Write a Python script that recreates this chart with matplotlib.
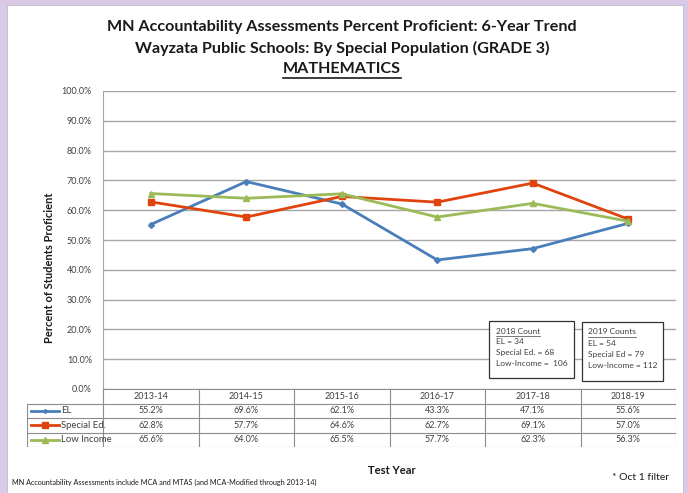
import matplotlib
matplotlib.use("Agg")
import matplotlib.pyplot as plt
from matplotlib.patches import Rectangle
from matplotlib.lines import Line2D

years = ["2013-14", "2014-15", "2015-16", "2016-17", "2017-18", "2018-19"]
el = [55.2, 69.6, 62.1, 43.3, 47.1, 55.6]
sped = [62.8, 57.7, 64.6, 62.7, 69.1, 57.0]
lowinc = [65.6, 64.0, 65.5, 57.7, 62.3, 56.3]
series_names = ["EL", "Special Ed.", "Low Income"]
yticks = [0, 10, 20, 30, 40, 50, 60, 70, 80, 90, 100]
counts_2018 = ["2018 Count", "EL = 34", "Special Ed. = 68", "Low-Income =  106"]
counts_2019 = ["2019 Counts", "EL = 54", "Special Ed = 79", "Low-Income = 112"]

colors = ["#4a7ebb", "#e0440e", "#9bbb59"]
markers = ["D", "s", "^"]
msizes = [3, 5, 5]

plt.rcParams['font.family'] = ['Lato', 'DejaVu Sans']

W, H = 688, 493
fig = plt.figure(figsize=(W / 100, H / 100), dpi=100)
fig.patch.set_facecolor("#d9c9e6")

def fx(px):
    return px / W

def fy(py):
    return 1 - py / H

# white panel
fig.patches.append(Rectangle((fx(7), fy(493)), fx(683) - fx(7), fy(5) - fy(493),
                             transform=fig.transFigure, facecolor="white",
                             edgecolor="#bfbfbf", linewidth=0.6, zorder=-10))

# main axes
L, R, T, B = 103, 676, 91, 389
ax = fig.add_axes([fx(L), fy(B), fx(R) - fx(L), fy(T) - fy(B)])
ax.set_zorder(2)
ax.set_facecolor("none")
x = list(range(len(years)))
for vals, c, m, ms in zip([el, sped, lowinc], colors, markers, msizes):
    ax.plot(x, vals, color=c, marker=m, markersize=ms, linewidth=2, zorder=3)
ax.set_xlim(-0.5, 5.5)
ax.set_ylim(0, 100)
ax.set_yticks(yticks)
ax.set_yticklabels([f"{v:.1f}%" for v in yticks], fontsize=6.5, color="#404040")
ax.set_xticks([])
ax.yaxis.grid(True, color="#a6a6a6", linewidth=1.0)
ax.set_axisbelow(True)
for s in ["top", "right", "bottom"]:
    ax.spines[s].set_visible(False)
ax.spines["left"].set_color("#a6a6a6")
ax.tick_params(axis="y", length=0, pad=8)

# table axes
TL, TB = 27, 447
colw = (R - L) / 6
left_cols = (L - TL) / colw
tax = fig.add_axes([fx(TL), fy(TB), fx(R) - fx(TL), fy(B) - fy(TB)])
tax.set_zorder(2)
tax.set_xlim(-0.5 - left_cols, 5.5)
tax.set_ylim(4, 0)
tax.axis("off")
lc = "#8c8c8c"
lw = 0.8
tax.plot([-0.5, 5.5], [0, 0], color=lc, lw=lw)
for i in range(7):
    tax.plot([i - 0.5, i - 0.5], [0, 4], color=lc, lw=lw)
for r in range(1, 5):
    tax.plot([-0.5 - left_cols, 5.5], [r, r], color=lc, lw=lw)
tax.plot([-0.5 - left_cols, -0.5 - left_cols], [1, 4], color=lc, lw=lw)
for i, yr in enumerate(years):
    tax.text(i, 0.5, yr, ha="center", va="center", fontsize=6.5, color="#404040")
for r, (vals, name, c, m, ms) in enumerate(zip([el, sped, lowinc], series_names, colors, markers, msizes)):
    for i, v in enumerate(vals):
        tax.text(i, r + 1.5, f"{v:.1f}%", ha="center", va="center", fontsize=6.5, color="#404040")
    x0 = -0.5 - left_cols + 0.04
    tax.plot([x0, x0 + 0.3], [r + 1.5, r + 1.5], color=c, lw=2)
    tax.plot([x0 + 0.15], [r + 1.5], color=c, marker=m, markersize=ms - 1)
    tax.text(x0 + 0.32, r + 1.5, name, ha="left", va="center", fontsize=6.8, color="#404040")

# titles
tkw = dict(ha="center", va="center", fontsize=11.6, fontweight="bold", color="#1a1a1a")
fig.text(fx(342), fy(27), "MN Accountability Assessments Percent Proficient: 6-Year Trend", **tkw)
fig.text(fx(342), fy(48), "Wayzata Public Schools: By Special Population (GRADE 3)", **tkw)
t3 = fig.text(fx(342), fy(69), "MATHEMATICS", **tkw)

fig.text(fx(50), fy(268), "Percent of Students Proficient", rotation=90, ha="center",
         va="center", fontsize=8, fontweight="bold", color="#1a1a1a")
fig.text(fx(392), fy(470), "Test Year", ha="center", va="center", fontsize=8,
         fontweight="bold", color="#1a1a1a")
fig.text(fx(612), fy(477), "* Oct 1 filter", ha="left", va="center", fontsize=7.5, color="#1a1a1a")
fig.text(fx(12), fy(482), "MN Accountability Assessments include MCA and MTAS (and MCA-Modified through 2013-14)",
         ha="left", va="center", fontsize=5.2, color="#1a1a1a")

# count boxes
def count_box(x0, x1, y0, y1, tx, ys, lines):
    fig.patches.append(Rectangle((fx(x0), fy(y1)), fx(x1) - fx(x0), fy(y0) - fy(y1),
                                 transform=fig.transFigure, facecolor="white",
                                 edgecolor="#333333", linewidth=0.9, zorder=5))
    texts = []
    for yy, line in zip(ys, lines):
        texts.append(fig.text(fx(tx), fy(yy), line, ha="left", va="center", fontsize=6,
                              color="#404040", zorder=6))
    return texts

t18 = count_box(489, 574, 321, 378, 496, [331, 342, 353, 364], counts_2018)
t19 = count_box(582, 663, 322, 381, 588, [332, 343, 354, 365], counts_2019)

fig.canvas.draw()
inv = fig.transFigure.inverted()
bb = t3.get_window_extent().transformed(inv)
fig.lines.append(Line2D([bb.x0, bb.x1], [fy(78), fy(78)], transform=fig.transFigure,
                        color="#1a1a1a", linewidth=1.2))
for t, yy in [(t18[0], 335.5), (t19[0], 336.5)]:
    b = t.get_window_extent().transformed(inv)
    fig.lines.append(Line2D([b.x0, b.x1], [fy(yy), fy(yy)], transform=fig.transFigure,
                            color="#404040", linewidth=0.5, zorder=7))

fig.savefig("out.png", dpi=100, facecolor=fig.get_facecolor())
